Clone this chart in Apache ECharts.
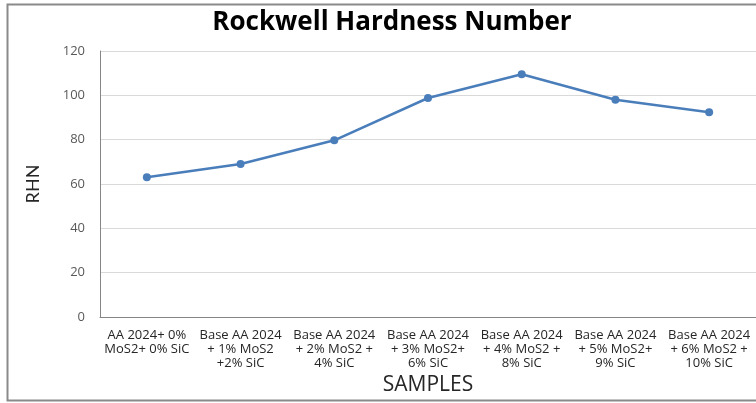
<!DOCTYPE html>
<html>
<head>
<meta charset="utf-8">
<script src="https://cdn.jsdelivr.net/npm/echarts@6/dist/echarts.min.js"></script>
<style>
  html, body { margin: 0; padding: 0; background: #fff; }
  #chart { width: 756px; height: 403px; }
</style>
</head>
<body>
<div id="chart"></div>
<script>
let samples = [
  'AA 2024+ 0%\nMoS2+ 0% SiC',
  'Base AA 2024\n+ 1% MoS2\n+2% SiC',
  'Base AA 2024\n+ 2% MoS2 +\n4% SiC',
  'Base AA 2024\n+ 3% MoS2+\n6% SiC',
  'Base AA 2024\n+ 4% MoS2 +\n8% SiC',
  'Base AA 2024\n+ 5% MoS2+\n9% SiC',
  'Base AA 2024\n+ 6% MoS2 +\n10% SiC'
];
let rhn = [63, 69, 79.7, 98.8, 109.5, 98, 92.4];

let font = '"Open Sans", Lato, sans-serif';

let chart = echarts.init(document.getElementById('chart'));
let option = {
  animation: false,
  textStyle: { fontFamily: font },
  title: {
    text: 'Rockwell Hardness Number',
    left: 387,
    top: 5,
    textAlign: 'center',
    textStyle: { fontFamily: font, fontSize: 26, fontWeight: 'bold', color: '#000' }
  },
  graphic: [{
    type: 'rect',
    shape: { x: 7.5, y: 4.5, width: 800, height: 396 },
    style: { fill: 'none', stroke: '#8a8a8a', lineWidth: 2 },
    silent: true
  }],
  grid: { left: 100, right: 0, top: 51, bottom: 86 },
  xAxis: {
    type: 'category',
    data: samples,
    boundaryGap: true,
    name: 'SAMPLES',
    nameLocation: 'middle',
    nameGap: 58,
    nameTextStyle: { fontFamily: font, fontSize: 21, color: '#262626' },
    axisLine: { lineStyle: { color: '#868686', width: 1 } },
    axisTick: { show: false },
    axisLabel: {
      interval: 0,
      margin: 11,
      fontSize: 13,
      lineHeight: 14,
      color: '#262626',
      fontFamily: font
    }
  },
  yAxis: {
    type: 'value',
    min: 0,
    max: 120,
    interval: 20,
    name: 'RHN',
    nameLocation: 'middle',
    nameGap: 58,
    nameRotate: 90,
    nameTextStyle: { fontFamily: 'Lato, sans-serif', fontSize: 18, color: '#262626' },
    axisLine: { show: true, lineStyle: { color: '#868686', width: 1 } },
    axisTick: { show: false },
    axisLabel: { fontSize: 13, color: '#595959', margin: 15, fontFamily: font },
    splitLine: { lineStyle: { color: '#d9d9d9', width: 1 } }
  },
  series: [{
    type: 'line',
    data: rhn,
    symbol: 'circle',
    symbolSize: 8,
    lineStyle: { color: '#4a7ebb', width: 2.5 },
    itemStyle: { color: '#4a7ebb' }
  }]
};
chart.setOption(option);
</script>
</body>
</html>
